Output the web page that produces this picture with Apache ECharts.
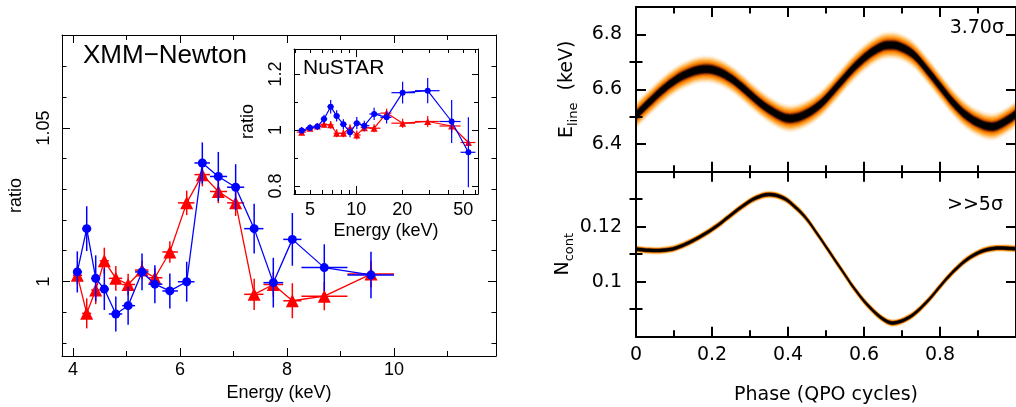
<!DOCTYPE html>
<html><head><meta charset="utf-8">
<script src="https://cdn.jsdelivr.net/npm/echarts@6/dist/echarts.min.js"></script>
<style>html,body{margin:0;padding:0;background:#fff}#c{width:1016px;height:407px}</style>
</head><body><div id="c"></div>
<script>
// ---------- XMM-Newton (main left panel) ----------
const xmmEnergy = [4.08, 4.256, 4.424, 4.585, 4.80, 5.03, 5.29, 5.53, 5.81, 6.125, 6.417, 6.716, 7.04, 7.386, 7.744, 8.10, 8.697, 9.57];
const xmmBinLo  = [4.0, 4.17, 4.34, 4.5, 4.67, 4.92, 5.16, 5.41, 5.67, 5.96, 6.27, 6.56, 6.88, 7.2, 7.56, 7.93, 8.27, 9.13];
const xmmBinHi  = [4.17, 4.34, 4.5, 4.67, 4.92, 5.16, 5.41, 5.67, 5.96, 6.27, 6.56, 6.88, 7.2, 7.56, 7.93, 8.27, 9.13, 10.0];
const xmmRed     = [1.0020, 0.9896, 0.9972, 1.0067, 1.0010, 0.9990, 1.0037, 1.0012, 1.0096, 1.0256, 1.0348, 1.0293, 1.0256, 0.9958, 0.9990, 0.9937, 0.9952, 1.0024];
const xmmRedErr  = [0.0030, 0.0049, 0.0046, 0.0043, 0.0040, 0.0035, 0.0030, 0.0032, 0.0035, 0.0040, 0.0038, 0.0038, 0.0043, 0.0051, 0.0040, 0.0057, 0.0046, 0.0043];
const xmmBlue    = [1.0031, 1.0172, 1.0010, 0.9975, 0.9894, 0.9921, 1.0031, 0.9991, 0.9969, 0.9999, 1.0386, 1.0342, 1.0307, 1.0172, 0.9996, 1.0137, 1.0045, 1.0021];
const xmmBlueErr = [0.0067, 0.0073, 0.0075, 0.0068, 0.0057, 0.0062, 0.0060, 0.0062, 0.0057, 0.0065, 0.0067, 0.0080, 0.0075, 0.0081, 0.0081, 0.0086, 0.0076, 0.0076];
const xmmXLabels = [4, 6, 8, 10];
const xmmXMinor = [5, 7, 9, 11];
const xmmYLabels = [1, 1.05];
const xmmYMinor = [0.98, 0.99, 1.01, 1.02, 1.03, 1.04, 1.06, 1.07];

// ---------- NuSTAR (inset) ----------
const nuEnergy = [4.41, 5.0, 5.58, 6.17, 6.82, 7.46, 8.25, 9.12, 10.1, 11.3, 13.1, 15.8, 20.1, 29.3, 42.0, 54.0];
const nuBinLo  = [4.1, 4.7, 5.28, 5.87, 6.48, 7.13, 7.84, 8.67, 9.6, 10.7, 12.2, 14.4, 17.0, 24.2, 35.0, 48.0];
const nuBinHi  = [4.7, 5.28, 5.87, 6.48, 7.13, 7.84, 8.67, 9.6, 10.7, 12.2, 14.4, 17.0, 24.2, 35.0, 48.0, 60.0];
const nuRed     = [0.992, 1.006, 1.014, 1.020, 1.018, 0.988, 0.988, 1.006, 0.982, 1.008, 1.006, 1.060, 1.024, 1.030, 1.014, 0.955];
const nuRedErr  = [0.010, 0.010, 0.010, 0.012, 0.014, 0.014, 0.014, 0.014, 0.016, 0.014, 0.014, 0.016, 0.016, 0.020, 0.025, 0.012];
const nuBlue    = [0.998, 1.008, 1.012, 1.039, 1.083, 1.050, 1.020, 0.992, 1.024, 1.015, 1.057, 1.045, 1.133, 1.140, 1.030, 0.920];
const nuBlueErr = [0.012, 0.012, 0.012, 0.015, 0.024, 0.020, 0.018, 0.018, 0.022, 0.018, 0.022, 0.022, 0.039, 0.045, 0.077, 0.125];
const nuXLabels = [5, 10, 20, 50];
const nuXMajor = [10];
const nuXMinor = [4, 5, 6, 7, 8, 9, 20, 30, 40, 50, 60];
const nuYLabels = [0.8, 1, 1.2];
const nuYMinor = [0.9, 1.1];

// ---------- QPO phase panels (right) ----------
const phase = [0, 0.035, 0.07, 0.105, 0.14, 0.175, 0.21, 0.245, 0.28, 0.315, 0.35, 0.385, 0.41, 0.445, 0.48, 0.505, 0.54, 0.575, 0.61, 0.645, 0.67, 0.695, 0.73, 0.765, 0.8, 0.835, 0.87, 0.905, 0.94, 0.975, 1.0];
const eLine = [6.505, 6.553, 6.598, 6.635, 6.660, 6.673, 6.668, 6.644, 6.607, 6.564, 6.527, 6.500, 6.494, 6.509, 6.540, 6.573, 6.628, 6.682, 6.725, 6.755, 6.761, 6.755, 6.727, 6.672, 6.611, 6.551, 6.504, 6.475, 6.464, 6.486, 6.510];
const nCont = [0.1119, 0.1114, 0.1114, 0.1123, 0.1143, 0.1169, 0.1200, 0.1237, 0.1274, 0.1304, 0.1317, 0.1306, 0.1283, 0.1235, 0.1168, 0.1117, 0.1045, 0.0974, 0.0914, 0.0869, 0.0851, 0.0855, 0.0881, 0.0926, 0.0983, 0.1037, 0.1080, 0.1108, 0.1121, 0.1122, 0.1120];
const phaseLabels = [0, 0.2, 0.4, 0.6, 0.8];
const phaseMajor = [0, 0.2, 0.4, 0.6, 0.8, 1.0];
const phaseMinor = [0.1, 0.3, 0.5, 0.7, 0.9];
const eLineLabels = [6.4, 6.6, 6.8];
const eLineMinor = [6.5, 6.7];
const nContLabels = [0.1, 0.12];
const nContMinor = [0.09, 0.11, 0.13];

const LF = 'Liberation Sans, Arial, sans-serif';
const RF = 'DejaVu Sans, sans-serif';

const xAxes = [], yAxes = [];
function addAxes(list, dim, gridIndex, o) {
  const positions = dim === 'x' ? ['bottom', 'top'] : ['left', 'right'];
  let mainIndex = -1;
  positions.forEach((p, k) => {
    const ax = {
      type: 'value', gridIndex, position: p, min: o.min, max: o.max, z: 5,
      axisLine: {show: true, onZero: false, lineStyle: {color: '#000', width: o.lw}},
      axisTick: {show: true, inside: true, length: o.majorLen, customValues: o.major, lineStyle: {color: '#000', width: o.lw}},
      axisLabel: {show: false},
      splitLine: {show: false}
    };
    if (k === 0) {
      if (o.labels) ax.axisLabel = Object.assign({show: true, customValues: o.labels, color: '#000'}, o.labelStyle);
      if (o.name) { ax.name = o.name; ax.nameLocation = 'middle'; ax.nameGap = o.nameGap; ax.nameTextStyle = o.nameStyle; }
      mainIndex = list.length;
    }
    list.push(ax);
    if (o.minor) list.push({
      type: 'value', gridIndex, position: p, min: o.min, max: o.max, z: 5,
      axisLine: {show: false},
      axisTick: {show: true, inside: true, length: o.minorLen, customValues: o.minor, lineStyle: {color: '#000', width: o.lw}},
      axisLabel: {show: false}, splitLine: {show: false}
    });
  });
  return mainIndex;
}

// main panel axes
const mX = addAxes(xAxes, 'x', 0, {min: 3.794, max: 11.907, major: xmmXLabels, minor: xmmXMinor, majorLen: 8, minorLen: 5, lw: 1,
  labels: xmmXLabels, labelStyle: {fontSize: 18, fontFamily: LF, margin: 5},
  name: 'Energy (keV)', nameGap: 28, nameStyle: {fontSize: 18, fontFamily: LF, color: '#000'}});
const mY = addAxes(yAxes, 'y', 0, {min: 0.9757, max: 1.0803, major: xmmYLabels, minor: xmmYMinor, majorLen: 8, minorLen: 4.5, lw: 1,
  labels: xmmYLabels, labelStyle: {fontSize: 18, fontFamily: LF, margin: 9, rotate: 90},
  name: 'ratio', nameGap: 37, nameStyle: {fontSize: 18, fontFamily: LF, color: '#000'}});

// inset axes: hidden log axis carries the data, value axes over log10 carry ticks
const nuMin = 3.93, nuMax = 62.4;
const iXlog = xAxes.length;
xAxes.push({type: 'log', logBase: 10, gridIndex: 1, min: nuMin, max: nuMax, show: false});
addAxes(xAxes, 'x', 1, {min: Math.log10(nuMin), max: Math.log10(nuMax), major: nuXMajor.map(Math.log10), minor: nuXMinor.map(Math.log10), majorLen: 8, minorLen: 4, lw: 1,
  labels: nuXLabels.map(Math.log10), labelStyle: {fontSize: 18, fontFamily: LF, margin: 7, formatter: v => String(Math.round(Math.pow(10, v)))},
  name: 'Energy (keV)', nameGap: 28, nameStyle: {fontSize: 18, fontFamily: LF, color: '#000'}});
const iY = addAxes(yAxes, 'y', 1, {min: 0.771, max: 1.289, major: nuYLabels, minor: nuYMinor, majorLen: 6, minorLen: 4, lw: 1,
  labels: nuYLabels, labelStyle: {fontSize: 18, fontFamily: LF, margin: 9, rotate: 90},
  name: 'ratio', nameGap: 37, nameStyle: {fontSize: 18, fontFamily: LF, color: '#000'}});

// right panels
const subRich = (main, sub, tail) => ({
  name: '{m|' + main + '}{s|' + sub + '}{m|' + tail + '}',
  style: {rich: {
    m: {fontSize: 19, fontFamily: RF, color: '#000', lineHeight: 26},
    s: {fontSize: 13, fontFamily: RF, color: '#000', lineHeight: 14, verticalAlign: 'bottom'}
  }}
});
const tX = addAxes(xAxes, 'x', 2, {min: 0, max: 1, major: phaseMajor, minor: phaseMinor, majorLen: 10, minorLen: 6.5, lw: 2});
const eName = subRich('E', 'line', '  (keV)');
const tY = addAxes(yAxes, 'y', 2, {min: 6.3, max: 6.9, major: eLineLabels, minor: eLineMinor, majorLen: 10, minorLen: 6.5, lw: 2,
  labels: eLineLabels, labelStyle: {fontSize: 19, fontFamily: RF, margin: 14},
  name: eName.name, nameGap: 56, nameStyle: eName.style});
const bX = addAxes(xAxes, 'x', 3, {min: 0, max: 1, major: phaseMajor, minor: phaseMinor, majorLen: 10, minorLen: 6.5, lw: 2,
  labels: phaseLabels, labelStyle: {fontSize: 19, fontFamily: RF, margin: 9},
  name: 'Phase (QPO cycles)', nameGap: 49, nameStyle: {fontSize: 19, fontFamily: RF, color: '#000'}});
const nName = subRich('N', 'cont', '');
const bY = addAxes(yAxes, 'y', 3, {min: 0.08, max: 0.14, major: nContLabels, minor: nContMinor, majorLen: 10, minorLen: 6.5, lw: 2,
  labels: nContLabels, labelStyle: {fontSize: 19, fontFamily: RF, margin: 14},
  name: nName.name, nameGap: 56, nameStyle: nName.style});

function errSeries(xi, yi, xs, lo, hi, ys, err, color, lw, z) {
  return {
    type: 'custom', xAxisIndex: xi, yAxisIndex: yi, z, silent: true,
    data: xs.map((x, i) => [x, ys[i], lo[i], hi[i], err[i]]),
    encode: {x: 0, y: 1},
    renderItem: (params, api) => {
      const x = api.value(0), y = api.value(1), e = api.value(4);
      const l = api.coord([api.value(2), y]), h = api.coord([api.value(3), y]);
      const t = api.coord([x, y + e]), b = api.coord([x, y - e]);
      const st = {stroke: color, lineWidth: lw};
      return {type: 'group', children: [
        {type: 'line', shape: {x1: l[0], y1: l[1], x2: h[0], y2: h[1]}, style: st},
        {type: 'line', shape: {x1: t[0], y1: t[1], x2: b[0], y2: b[1]}, style: st}
      ]};
    }
  };
}
function lineSeries(xi, yi, xs, ys, color, symbol, size, lw, z) {
  return {
    type: 'line', xAxisIndex: xi, yAxisIndex: yi, z, silent: true,
    data: xs.map((x, i) => [x, ys[i]]),
    symbol, symbolSize: size, showSymbol: true,
    itemStyle: {color}, lineStyle: {color, width: lw}
  };
}
function bandSeries(xi, yi, xs, ys, layers) {
  return {
    type: 'custom', xAxisIndex: xi, yAxisIndex: yi, clip: true, silent: true,
    data: xs.map((x, i) => [x, ys[i]]),
    encode: {x: 0, y: 1},
    renderItem: (params, api) => {
      if (params.dataIndex !== 0) return null;
      const pts = xs.map((x, i) => api.coord([x, ys[i]]));
      const children = layers.map(([h, color]) => {
        const top = pts.map(p => [p[0], p[1] - h]);
        const bot = pts.map(p => [p[0], p[1] + h]).reverse();
        const ring = [top[0]].concat(top, [top[top.length - 1]], [bot[0]], bot, [bot[bot.length - 1]]);
        return {type: 'polygon', shape: {points: ring, smooth: 0.35}, style: {fill: color}};
      });
      return {type: 'group', children};
    }
  };
}

const topLayers = [[14, '#fff5e8'], [12.5, '#ffe4bc'], [11, '#ffca80'], [9.5, '#ffac40'], [8, '#ff9010'], [6.8, '#ec7400'], [5.6, '#b84a00'], [4.6, '#602000'], [3.7, '#1a0400'], [2.9, '#000000']];
const botLayers = [[3.8, '#ffe4bc'], [3.1, '#ffae48'], [2.5, '#f07c00'], [2.0, '#703000'], [1.5, '#000000']];

const series = [
  errSeries(mX, mY, xmmEnergy, xmmBinLo, xmmBinHi, xmmRed, xmmRedErr, '#ff0000', 1.5, 2),
  lineSeries(mX, mY, xmmEnergy, xmmRed, '#ff0000', 'triangle', 13, 1.3, 2),
  errSeries(mX, mY, xmmEnergy, xmmBinLo, xmmBinHi, xmmBlue, xmmBlueErr, '#0000ff', 1.5, 3),
  lineSeries(mX, mY, xmmEnergy, xmmBlue, '#0000ff', 'circle', 9, 1.3, 3),
  errSeries(iXlog, iY, nuEnergy, nuBinLo, nuBinHi, nuRed, nuRedErr, '#ff0000', 1.2, 4),
  lineSeries(iXlog, iY, nuEnergy, nuRed, '#ff0000', 'triangle', 7, 1.2, 4),
  errSeries(iXlog, iY, nuEnergy, nuBinLo, nuBinHi, nuBlue, nuBlueErr, '#0000ff', 1.2, 5),
  lineSeries(iXlog, iY, nuEnergy, nuBlue, '#0000ff', 'circle', 6, 1.2, 5),
  bandSeries(tX, tY, phase, eLine, topLayers),
  bandSeries(bX, bY, phase, nCont, botLayers)
];

const chart = echarts.init(document.getElementById('c'), null, {renderer: 'canvas'});
chart.setOption({
  animation: false,
  backgroundColor: '#fff',
  grid: [
    {left: 62, top: 35, width: 434, height: 323},
    {left: 294, top: 49, width: 184, height: 145},
    {left: 636, top: 7, width: 382.7, height: 164.7},
    {left: 636, top: 171.7, width: 382.7, height: 165}
  ],
  xAxis: xAxes,
  yAxis: yAxes,
  series,
  graphic: [
    {type: 'text', x: 83, y: 56, z: 10, style: {text: 'XMM\u2212Newton', fontSize: 26, fontFamily: LF, fill: '#000', align: 'left', verticalAlign: 'middle'}},
    {type: 'text', x: 303, y: 68.5, z: 10, style: {text: 'NuSTAR', fontSize: 21, fontFamily: LF, fill: '#000', align: 'left', verticalAlign: 'middle'}},
    {type: 'text', x: 1004, y: 28, z: 10, style: {text: '3.70\u03c3', fontSize: 19, fontFamily: RF, fill: '#000', align: 'right', verticalAlign: 'middle'}},
    {type: 'text', x: 1003, y: 205, z: 10, style: {text: '>>5\u03c3', fontSize: 19, fontFamily: RF, fill: '#000', align: 'right', verticalAlign: 'middle'}}
  ]
});
</script></body></html>
